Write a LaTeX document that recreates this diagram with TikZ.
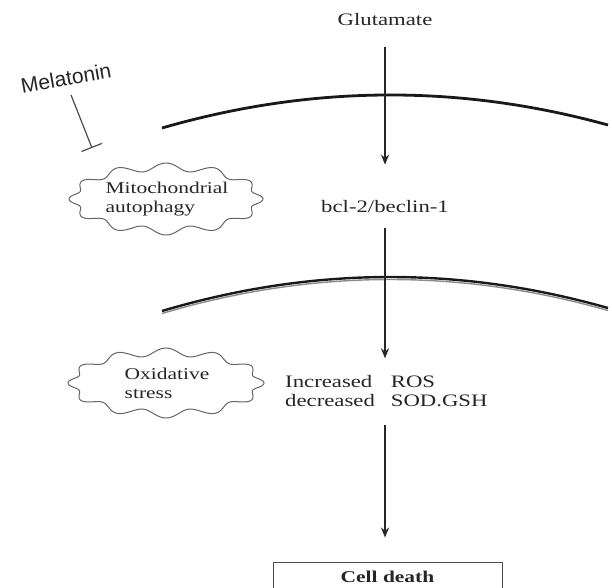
\documentclass[tikz,border=0pt]{standalone}
\usepackage{fontspec}
\setmainfont[FakeStretch=1.3]{Liberation Serif}
\newfontfamily\melfont{Liberation Sans}
\usetikzlibrary{arrows.meta}
\begin{document}
\begin{tikzpicture}[x=1pt,y=-1pt,
  lbl/.style={font=\fontsize{17.5}{20}\selectfont, text=black!85, inner sep=0pt},
  blobtext/.style={font=\fontsize{16.5}{19}\selectfont, text=black!85, align=left, inner sep=0pt},
  blobline/.style={draw=black!60, line width=1pt},
  membrane/.style={line width=2.8pt, black!90},
  arr/.style={-{Stealth[length=10pt,width=8pt]}, line width=1.6pt, black!85},
  inhib/.style={-{Bar[width=22pt]}, line width=1.2pt, black!70},
  boxed/.style={draw=black!70, line width=1pt, minimum width=229pt, minimum height=30pt,
    font=\bfseries\fontsize{16.5}{19}\selectfont, text=black!85, inner sep=0pt},
]
\useasboundingbox[fill=white] (0,0) rectangle (612,587);

% membranes
\draw[membrane] (162,128) .. controls (310.7,85) and (459.3,84) .. (608,125);
\draw[line width=1.4pt, black!45] (162,313.5) .. controls (310.7,269.2) and (459.3,268.2) .. (608,310.5);
\draw[membrane, line width=2.4pt] (162,311) .. controls (310.7,266.7) and (459.3,265.7) .. (608,308);

% text nodes
\node[lbl] (glu) at (385,20) {Glutamate};
\node[lbl] (bcl) at (385,207) {bcl-2/beclin-1};
\node[lbl, anchor=west] (ros) at (285,393) {%
  \begin{tabular}{@{}l@{\hspace{16pt}}l@{}}Increased & ROS\\[-1pt] decreased & SOD.GSH\end{tabular}};
\node[boxed] (cell) at (387.5,577) {Cell death};

\node[font=\melfont\fontsize{21}{24}\selectfont, text=black!85, rotate=10, inner sep=0pt] (mel) at (66,78) {Melatonin};
\coordinate (inhEnd) at (92,148);

% wavy blobs
\node[blobtext] (mito) at (167,199) {Mitochondrial\\autophagy};
\draw[blobline] plot[domain=0:360, samples=240, smooth cycle]
  ({166+(93+4*cos(12*\x))*cos(\x)}, {199+(32+4*cos(12*\x))*sin(\x)});
\node[blobtext] (oxi) at (167,383) {Oxidative\\stress};
\draw[blobline] plot[domain=0:360, samples=240, smooth cycle]
  ({166+(94+4*cos(12*\x))*cos(\x)}, {383+(31+4*cos(12*\x))*sin(\x)});

% connectors
\draw[arr, shorten <=21pt, shorten >=36pt] (glu.south) -- (bcl.north);
\draw[arr, shorten <=15pt, shorten >=15pt] (bcl.south) -- (bcl.south |- ros.north);
\draw[arr, shorten <=12pt, shorten >=24pt] (bcl |- ros.south) -- (bcl |- cell.north);
\draw[inhib, shorten <=10pt] (mel.south) -- (inhEnd);
\end{tikzpicture}
\end{document}
